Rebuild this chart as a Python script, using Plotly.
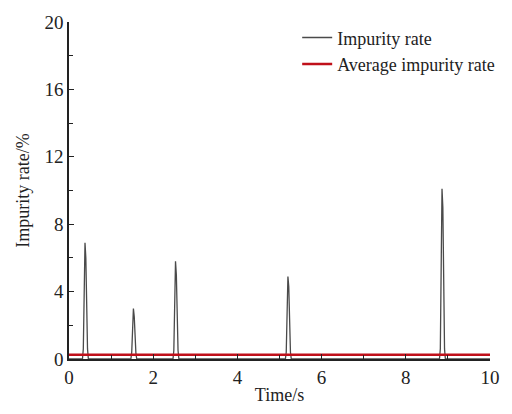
import plotly.graph_objects as go

# Impurity rate trace (time in s, rate in %)
time_s = [0.0, 0.32, 0.34, 0.36, 0.38, 0.40, 0.42, 0.44, 0.46,
          1.47, 1.49, 1.51, 1.53, 1.55, 1.57, 1.59, 1.61,
          2.47, 2.49, 2.51, 2.53, 2.55, 2.57, 2.59, 2.61,
          5.14, 5.16, 5.18, 5.20, 5.22, 5.24, 5.26, 5.28,
          8.80, 8.82, 8.84, 8.86, 8.88, 8.90, 8.92, 8.94, 10.0]
rate_pct = [0.0, 0.0, 0.6, 3.2, 6.9, 6.0, 3.0, 0.6, 0.0,
            0.0, 0.4, 2.2, 3.0, 2.5, 1.0, 0.3, 0.0,
            0.0, 0.5, 3.5, 5.8, 5.0, 2.5, 0.5, 0.0,
            0.0, 0.4, 2.5, 4.9, 4.3, 1.5, 0.4, 0.0,
            0.0, 0.6, 5.5, 10.1, 9.0, 4.0, 0.6, 0.0, 0.0]

avg_time = [0.0, 10.0]
avg_rate = [0.25, 0.25]

x_ticks = [0, 2, 4, 6, 8, 10]
y_ticks = [0, 4, 8, 12, 16, 20]

font = "Liberation Serif, Times New Roman, serif"

fig = go.Figure()
fig.add_trace(go.Scatter(x=time_s, y=rate_pct, mode="lines", name="Impurity rate",
                         line=dict(color="#4a4a4a", width=1.3)))
fig.add_trace(go.Scatter(x=avg_time, y=avg_rate, mode="lines", name="Average impurity rate",
                         line=dict(color="#c0101a", width=2.5)))

fig.update_layout(
    width=512, height=414,
    margin=dict(l=69, r=16, t=16, b=49),
    paper_bgcolor="white", plot_bgcolor="white",
    font=dict(family=font, size=19, color="#222"),
    showlegend=True,
    legend=dict(x=0.542, y=1.008, xanchor="left", yanchor="top",
                bgcolor="rgba(0,0,0,0)", font=dict(size=18, family=font),
                tracegroupgap=0),
)
fig.update_xaxes(range=[0, 10], tickvals=x_ticks, showgrid=False, zeroline=False,
                 showline=True, linecolor="#222", linewidth=1.5,
                 ticks="inside", ticklen=5, tickcolor="#222",
                 minor=dict(tickvals=[1, 3, 5, 7, 9], ticks="inside", ticklen=4, tickcolor="#222"),
                 title=dict(text="Time/s", font=dict(size=18), standoff=2))
fig.update_yaxes(range=[0, 20], tickvals=y_ticks, showgrid=False, zeroline=False,
                 showline=True, linecolor="#222", linewidth=1.5,
                 ticks="inside", ticklen=5, tickcolor="#222",
                 minor=dict(tickvals=[2, 6, 10, 14, 18], ticks="inside", ticklen=4, tickcolor="#222"),
                 title=dict(text="Impurity rate/%", font=dict(size=18), standoff=10))

fig.write_html("out.html")
